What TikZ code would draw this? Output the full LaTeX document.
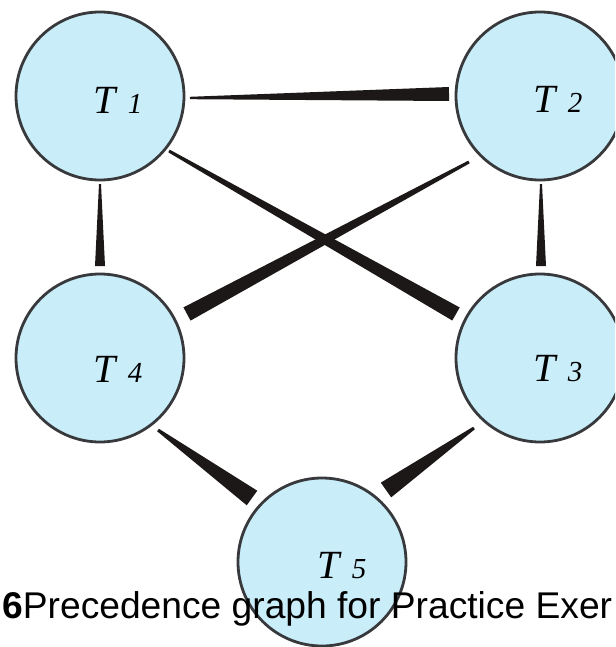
\documentclass[tikz,border=0pt]{standalone}
\usepackage{fontspec}
\setmainfont{Liberation Serif}
\newfontfamily\capfont{Liberation Sans}
\usetikzlibrary{calc}
\definecolor{nodefill}{RGB}{201,237,249}
\definecolor{nodeline}{RGB}{55,57,60}
\definecolor{wedgecol}{RGB}{28,24,24}
\newcommand\wedgeedge[4]{%
  \fill[wedgecol] ($(#1)!#3!90:(#2)$) -- ($(#2)!#4!-90:(#1)$) --
    ($(#2)!#4!90:(#1)$) -- ($(#1)!#3!-90:(#2)$) -- cycle;}
\newcommand\tlabel[1]{{\fontsize{40}{40}\selectfont\itshape T\hspace{0.3em}{\fontsize{29}{29}\selectfont #1}}}
\tikzset{
  task/.style={circle, draw=nodeline, line width=2.8pt, fill=nodefill,
    minimum size=168pt, inner sep=0pt},
  tasklabel/.style={inner sep=0pt, anchor=center},
  caption/.style={inner sep=0pt, anchor=base west, font=\capfont\fontsize{37.2}{37.2}\selectfont}
}
\begin{document}
\begin{tikzpicture}[x=1pt,y=-1pt]
\useasboundingbox (0,0) rectangle (615,647);
\clip (0,0) rectangle (615,647);
\fill[white] (0,0) rectangle (615,647);
% node centres
\coordinate (c1) at (100,96);
\coordinate (c2) at (540,96);
\coordinate (c4) at (100,358);
\coordinate (c3) at (540,358);
\coordinate (c5) at (322,562);
% connector end points
\coordinate (s12) at ($(c1)+(90,2)$);
\coordinate (e12) at ($(c2)+(-91,-2)$);
\coordinate (s14) at ($(c1)+(0,88)$);
\coordinate (e14) at ($(c4)+(0,-92)$);
\coordinate (s23) at ($(c2)+(1,88)$);
\coordinate (e23) at ($(c3)+(1,-92)$);
\coordinate (s13) at ($(c1)+(69,55)$);
\coordinate (e13) at ($(c3)+(-84,-44)$);
\coordinate (s24) at ($(c2)+(-71,66)$);
\coordinate (e24) at ($(c4)+(87,-44)$);
\coordinate (s45) at ($(c4)+(58,72)$);
\coordinate (e45) at ($(c5)+(-70,-64)$);
\coordinate (s35) at ($(c3)+(-66,70)$);
\coordinate (e35) at ($(c5)+(64,-72)$);
% connectors (tapered wedges)
\wedgeedge{s12}{e12}{1.2pt}{7pt}
\wedgeedge{s14}{e14}{1pt}{5pt}
\wedgeedge{s23}{e23}{1pt}{5pt}
\wedgeedge{s13}{e13}{1.5pt}{7.5pt}
\wedgeedge{s24}{e24}{1.5pt}{7.5pt}
\wedgeedge{s45}{e45}{1.5pt}{9pt}
\wedgeedge{s35}{e35}{1.5pt}{9pt}
% tasks
\node[task] (T1) at (c1) {};
\node[task] (T2) at (c2) {};
\node[task] (T4) at (c4) {};
\node[task] (T3) at (c3) {};
\node[task] (T5) at (c5) {};
\node[tasklabel] (L1) at ($(T1.center)+(18,4)$) {\tlabel{1}};
\node[tasklabel] (L2) at ($(T2.center)+(18,3)$) {\tlabel{2}};
\node[tasklabel] (L4) at ($(T4.center)+(18,11)$) {\tlabel{4}};
\node[tasklabel] (L3) at ($(T3.center)+(18,11)$) {\tlabel{3}};
\node[tasklabel] (L5) at ($(T5.center)+(20,4)$) {\tlabel{5}};
% caption
\node[caption] (cap) at (2,618) {\textbf{6}Precedence graph for Practice Exer};
\end{tikzpicture}
\end{document}
